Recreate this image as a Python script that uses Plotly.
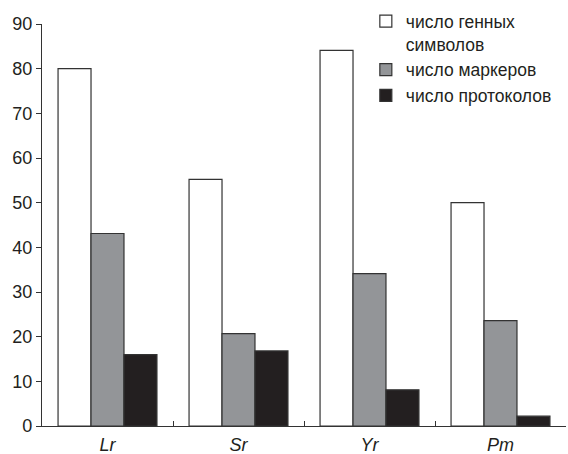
import plotly.graph_objects as go

categories = ["Lr", "Sr", "Yr", "Pm"]
gene_symbols = [80, 55.2, 84.1, 50]
markers = [43.1, 20.7, 34.1, 23.6]
protocols = [16, 16.8, 8.1, 2.2]
series_names = ["число генных<br>символов", "число маркеров", "число протоколов"]
y_ticks = [0, 10, 20, 30, 40, 50, 60, 70, 80, 90]

cat_labels = [f"<i>{c}</i>" for c in categories]
colors = ["#ffffff", "#939598", "#231f20"]
line_col = "#333333"

fig = go.Figure()
for name, vals, col in zip(series_names, [gene_symbols, markers, protocols], colors):
    fig.add_trace(go.Bar(
        x=cat_labels, y=vals, name=name,
        marker=dict(color=col, line=dict(color=line_col, width=1.2)),
    ))

fig.update_layout(
    width=568, height=454,
    margin=dict(l=42, r=2, t=24, b=28, autoexpand=False),
    plot_bgcolor="white", paper_bgcolor="white",
    barmode="group", bargap=0.245, bargroupgap=0,
    font=dict(family="Liberation Sans, Arial, sans-serif", color="#231f20", size=18),
    legend=dict(x=0.618, y=0.993, xanchor="left", yanchor="top",
                yref="container",
                font=dict(size=17.5), tracegroupgap=0, itemwidth=30,
                valign="top", bgcolor="rgba(0,0,0,0)"),
    showlegend=True,
)
fig.update_xaxes(
    automargin=False,
    showline=True, linecolor=line_col, linewidth=1.3,
    ticks="inside", ticklen=5, tickcolor=line_col, tickwidth=1.3,
    tickson="boundaries", showgrid=False,
    tickfont=dict(size=18), ticklabelstandoff=2,
)
fig.update_yaxes(
    automargin=False,
    range=[0, 90], tickvals=y_ticks,
    showline=True, linecolor=line_col, linewidth=1.3,
    ticks="outside", ticklen=5, tickcolor=line_col, tickwidth=1.3,
    showgrid=False, zeroline=False,
    tickfont=dict(size=18),
)

fig.write_html("out.html", config={"displayModeBar": False},
               post_script="document.body.style.margin='0';")
